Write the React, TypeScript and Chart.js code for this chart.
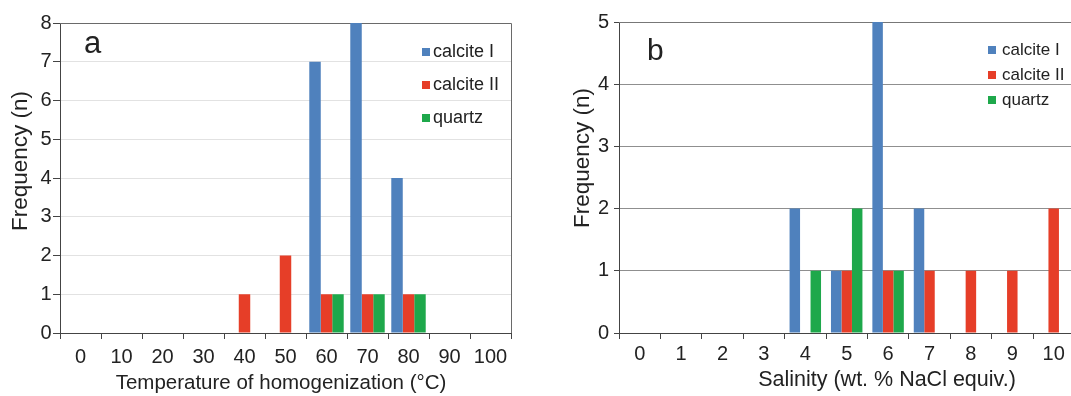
import React, { useEffect, useRef } from 'react';
import { Chart, registerables } from 'chart.js';

Chart.register(...registerables);

const FONT = "'Liberation Sans', Arial, sans-serif";
const TEXT = '#222222';

const SERIES_NAMES = ['calcite I', 'calcite II', 'quartz'];
const SERIES_COLORS = ['#4f81bd', '#e63e28', '#1ea84b'];

// Panel a: temperature of homogenization
const TEMP_CATEGORIES = ['0', '10', '20', '30', '40', '50', '60', '70', '80', '90', '100'];
const TEMP_CALCITE_I = [0, 0, 0, 0, 0, 0, 7, 8, 4, 0, 0];
const TEMP_CALCITE_II = [0, 0, 0, 0, 1, 2, 1, 1, 1, 0, 0];
const TEMP_QUARTZ = [0, 0, 0, 0, 0, 0, 1, 1, 1, 0, 0];
const TEMP_Y_MAX = 8;

// Panel b: salinity
const SAL_CATEGORIES = ['0', '1', '2', '3', '4', '5', '6', '7', '8', '9', '10'];
const SAL_CALCITE_I = [0, 0, 0, 0, 2, 1, 5, 2, 0, 0, 0];
const SAL_CALCITE_II = [0, 0, 0, 0, 0, 1, 1, 1, 1, 1, 2];
const SAL_QUARTZ = [0, 0, 0, 0, 1, 2, 1, 0, 0, 0, 0];
const SAL_Y_MAX = 5;

type Decor = {
  letter: { text: string; x: number; y: number; size: number };
  legend: { boxX: number; textX: number; y0: number; gap: number; size: number; box: number };
  xTitle: { text: string; x: number; y: number; size: number };
  yTitle: { text: string; x: number; y: number; size: number };
  frameRight: boolean;
  frameColor: string;
};

function makeDecor(d: Decor) {
  return {
    id: 'decor',
    beforeDatasetsDraw(chart: any) {
      const { ctx, chartArea: a } = chart;
      ctx.save();
      ctx.strokeStyle = d.frameColor;
      ctx.lineWidth = 1;
      const top = Math.round(a.top) + 0.5;
      const right = Math.round(a.right) + 0.5;
      ctx.beginPath();
      ctx.moveTo(a.left, top);
      ctx.lineTo(right, top);
      if (d.frameRight) {
        ctx.moveTo(right, top);
        ctx.lineTo(right, a.bottom);
      }
      ctx.stroke();
      ctx.restore();
    },
    afterDraw(chart: any) {
      const { ctx } = chart;
      ctx.save();
      ctx.fillStyle = TEXT;
      // panel letter
      ctx.font = `${d.letter.size}px ${FONT}`;
      ctx.textAlign = 'left';
      ctx.textBaseline = 'alphabetic';
      ctx.fillText(d.letter.text, d.letter.x, d.letter.y);
      // legend
      ctx.font = `${d.legend.size}px ${FONT}`;
      ctx.textBaseline = 'middle';
      chart.data.datasets.forEach((ds: any, i: number) => {
        const cy = d.legend.y0 + i * d.legend.gap;
        ctx.fillStyle = ds.backgroundColor;
        ctx.fillRect(d.legend.boxX, cy - d.legend.box / 2, d.legend.box, d.legend.box);
        ctx.fillStyle = TEXT;
        ctx.fillText(ds.label, d.legend.textX, cy);
      });
      // x title
      ctx.font = `${d.xTitle.size}px ${FONT}`;
      ctx.textAlign = 'center';
      ctx.textBaseline = 'middle';
      ctx.fillText(d.xTitle.text, d.xTitle.x, d.xTitle.y);
      // y title
      ctx.font = `${d.yTitle.size}px ${FONT}`;
      ctx.translate(d.yTitle.x, d.yTitle.y);
      ctx.rotate(-Math.PI / 2);
      ctx.fillText(d.yTitle.text, 0, 0);
      ctx.restore();
    },
  };
}

type PanelProps = {
  left: number;
  width: number;
  categories: string[];
  series: number[][];
  yMax: number;
  pad: { top: number; right: number };
  yAxisWidth: number;
  catPct: number;
  gridColor: string;
  yTickLen: number;
  yTickPad: number;
  xTickPad: number;
  decor: Decor;
};

function Panel(p: PanelProps) {
  const ref = useRef<HTMLCanvasElement | null>(null);
  useEffect(() => {
    if (!ref.current) return;
    const chart = new Chart(ref.current, {
      type: 'bar',
      data: {
        labels: p.categories,
        datasets: p.series.map((vals, i) => ({
          label: SERIES_NAMES[i],
          data: vals,
          backgroundColor: SERIES_COLORS[i],
          borderWidth: 0,
          categoryPercentage: p.catPct,
          barPercentage: 1,
        })),
      },
      options: {
        responsive: false,
        animation: false,
        devicePixelRatio: 1,
        layout: { padding: { top: p.pad.top, right: p.pad.right, left: 0, bottom: 0 } },
        plugins: { legend: { display: false }, tooltip: { enabled: false } },
        scales: {
          x: {
            grid: {
              display: true,
              offset: true,
              drawOnChartArea: false,
              drawTicks: true,
              tickLength: 6,
              tickColor: '#444444',
            },
            border: { display: true, color: '#444444', width: 1 },
            ticks: {
              color: TEXT,
              font: { family: FONT, size: 20 },
              padding: p.xTickPad,
              maxRotation: 0,
              autoSkip: false,
            },
            afterFit: (s: any) => {
              s.height = 63;
            },
          },
          y: {
            min: 0,
            max: p.yMax,
            grid: {
              color: (c: any) => (c.tick && c.tick.value === 0 ? '#444444' : p.gridColor),
              drawTicks: true,
              tickLength: p.yTickLen,
              tickColor: '#444444',
            },
            border: { display: true, color: '#444444', width: 1 },
            ticks: {
              stepSize: 1,
              color: TEXT,
              font: { family: FONT, size: 20 },
              padding: p.yTickPad,
            },
            afterFit: (s: any) => {
              s.width = p.yAxisWidth;
            },
          },
        },
      },
      plugins: [makeDecor(p.decor)],
    } as any);
    return () => chart.destroy();
  }, []);
  return (
    <canvas
      ref={ref}
      width={p.width}
      height={396}
      style={{ position: 'absolute', left: p.left, top: 0, width: p.width, height: 396 }}
    />
  );
}

export default function App() {
  return (
    <div
      style={{
        position: 'absolute',
        left: 0,
        top: 0,
        width: 1071,
        height: 396,
        overflow: 'hidden',
        background: '#ffffff',
      }}
    >
      <Panel
        left={0}
        width={540}
        categories={TEMP_CATEGORIES}
        series={[TEMP_CALCITE_I, TEMP_CALCITE_II, TEMP_QUARTZ]}
        yMax={TEMP_Y_MAX}
        pad={{ top: 23, right: 29 }}
        yAxisWidth={60}
        catPct={0.84}
        gridColor="#e2e2e2"
        yTickLen={7}
        yTickPad={1.5}
        xTickPad={6.5}
        decor={{
          letter: { text: 'a', x: 84, y: 53, size: 31 },
          legend: { boxX: 422, textX: 433, y0: 52, gap: 33, size: 18, box: 8 },
          xTitle: { text: 'Temperature of homogenization (°C)', x: 281, y: 383.5, size: 20.5 },
          yTitle: { text: 'Frequency (n)', x: 20.5, y: 161, size: 22.5 },
          frameRight: true,
          frameColor: '#6a6a6a',
        }}
      />
      <Panel
        left={540}
        width={560}
        categories={SAL_CATEGORIES}
        series={[SAL_CALCITE_I, SAL_CALCITE_II, SAL_QUARTZ]}
        yMax={SAL_Y_MAX}
        pad={{ top: 22, right: 25.6 }}
        yAxisWidth={79}
        catPct={0.76}
        gridColor="#8f8f8f"
        yTickLen={5}
        yTickPad={5}
        xTickPad={3}
        decor={{
          letter: { text: 'b', x: 107, y: 60, size: 30 },
          legend: { boxX: 448, textX: 462, y0: 50, gap: 25, size: 17, box: 8 },
          xTitle: { text: 'Salinity (wt. % NaCl equiv.)', x: 347, y: 380, size: 21.5 },
          yTitle: { text: 'Frequency (n)', x: 43, y: 158, size: 22.5 },
          frameRight: true,
          frameColor: '#777777',
        }}
      />
    </div>
  );
}
